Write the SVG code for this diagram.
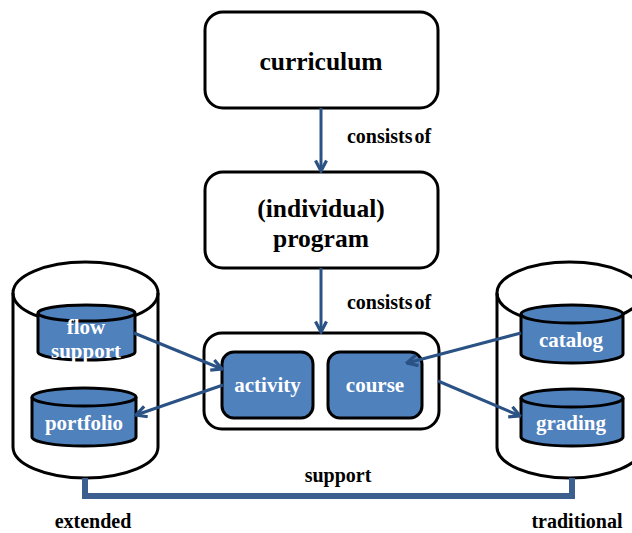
<svg xmlns="http://www.w3.org/2000/svg" width="632" height="533" viewBox="0 0 632 533">
<style>
.box{fill:#fff;stroke:#000;stroke-width:3}
.blue{fill:#4F81BD;stroke:#000;stroke-width:3}
.t{font-family:"Liberation Serif","Times New Roman",serif;font-weight:bold;text-anchor:middle}
.big{font-size:25.5px;fill:#000}
.lbl{font-size:20px;fill:#000}
.w{font-size:21px;fill:#fff}
.con{stroke:#2B5285;stroke-width:3;fill:none}
.bus{stroke:#3C5F8F;stroke-width:6;fill:none}
</style>
<defs>
<marker id="ah" viewBox="0 0 14 14" refX="12.5" refY="7" markerWidth="14" markerHeight="14" markerUnits="userSpaceOnUse" orient="auto">
<polyline points="2,1.5 12.5,7 2,12.5" fill="none" stroke="#2B5285" stroke-width="3.2"/>
</marker>
</defs>

<g id="extended-store">
<path class="box" d="M13,293 A72.5,31 0 0 1 158,293 V447 A72.5,31 0 0 1 13,447 Z"/>
<path fill="none" stroke="#000" stroke-width="3" d="M13,293 A72.5,31 0 0 0 158,293"/>
</g>
<g id="traditional-store">
<path class="box" d="M497,293 A72.5,31 0 0 1 642,293 V447 A72.5,31 0 0 1 497,447 Z"/>
<path fill="none" stroke="#000" stroke-width="3" d="M497,293 A72.5,31 0 0 0 642,293"/>
</g>

<g id="flow-support">
<path class="blue" d="M38,313 A48.5,8 0 0 1 135,313 V352 A48.5,8 0 0 1 38,352 Z"/>
<path fill="none" stroke="#000" stroke-width="3" d="M38,313 A48.5,8 0 0 0 135,313"/>
<text class="t w" x="86" y="334">flow</text>
<text class="t w" x="86" y="358">support</text>
</g>
<g id="portfolio">
<path class="blue" d="M32,397 A52,9 0 0 1 136,397 V437 A52,9 0 0 1 32,437 Z"/>
<path fill="none" stroke="#000" stroke-width="3" d="M32,397 A52,9 0 0 0 136,397"/>
<text class="t w" x="84" y="430">portfolio</text>
</g>
<g id="catalog">
<path class="blue" d="M521,314 A51,9 0 0 1 623,314 V354 A51,9 0 0 1 521,354 Z"/>
<path fill="none" stroke="#000" stroke-width="3" d="M521,314 A51,9 0 0 0 623,314"/>
<text class="t w" x="571" y="347">catalog</text>
</g>
<g id="grading">
<path class="blue" d="M521,398 A51,9 0 0 1 623,398 V437 A51,9 0 0 1 521,437 Z"/>
<path fill="none" stroke="#000" stroke-width="3" d="M521,398 A51,9 0 0 0 623,398"/>
<text class="t w" x="571" y="430">grading</text>
</g>

<g id="curriculum">
<rect class="box" x="205" y="12" width="233" height="96" rx="18"/>
<text class="t big" x="321" y="70">curriculum</text>
</g>
<g id="program">
<rect class="box" x="205" y="172" width="233" height="96" rx="18"/>
<text class="t big" x="321" y="217">(individual)</text>
<text class="t big" x="321" y="247">program</text>
</g>
<g id="container">
<rect class="box" x="204" y="333" width="235" height="96" rx="18"/>
</g>
<g id="activity">
<rect class="blue" x="222" y="352" width="91" height="66" rx="12"/>
<text class="t w" x="267.500" y="392">activity</text>
</g>
<g id="course">
<rect class="blue" x="328" y="352" width="94" height="66" rx="12"/>
<text class="t w" x="375" y="392">course</text>
</g>

<g id="connectors">
<line class="con" x1="321" y1="108" x2="321" y2="171" marker-end="url(#ah)"/>
<line class="con" x1="321" y1="268" x2="321" y2="332" marker-end="url(#ah)"/>
<line class="con" x1="134" y1="333" x2="222" y2="369" marker-end="url(#ah)"/>
<line class="con" x1="223" y1="385" x2="136" y2="415" marker-end="url(#ah)"/>
<line class="con" x1="521" y1="333" x2="407" y2="363" marker-end="url(#ah)"/>
<line class="con" x1="438" y1="381" x2="520" y2="416" marker-end="url(#ah)"/>
<polyline class="bus" points="85,478 85,496 572,496 572,478"/>
<text class="t lbl" x="389" y="143" word-spacing="-3">consists of</text>
<text class="t lbl" x="389" y="309" word-spacing="-3">consists of</text>
<text class="t lbl" x="338" y="482">support</text>
<text class="t lbl" x="93" y="528">extended</text>
<text class="t lbl" x="577" y="528">traditional</text>
</g>
</svg>
